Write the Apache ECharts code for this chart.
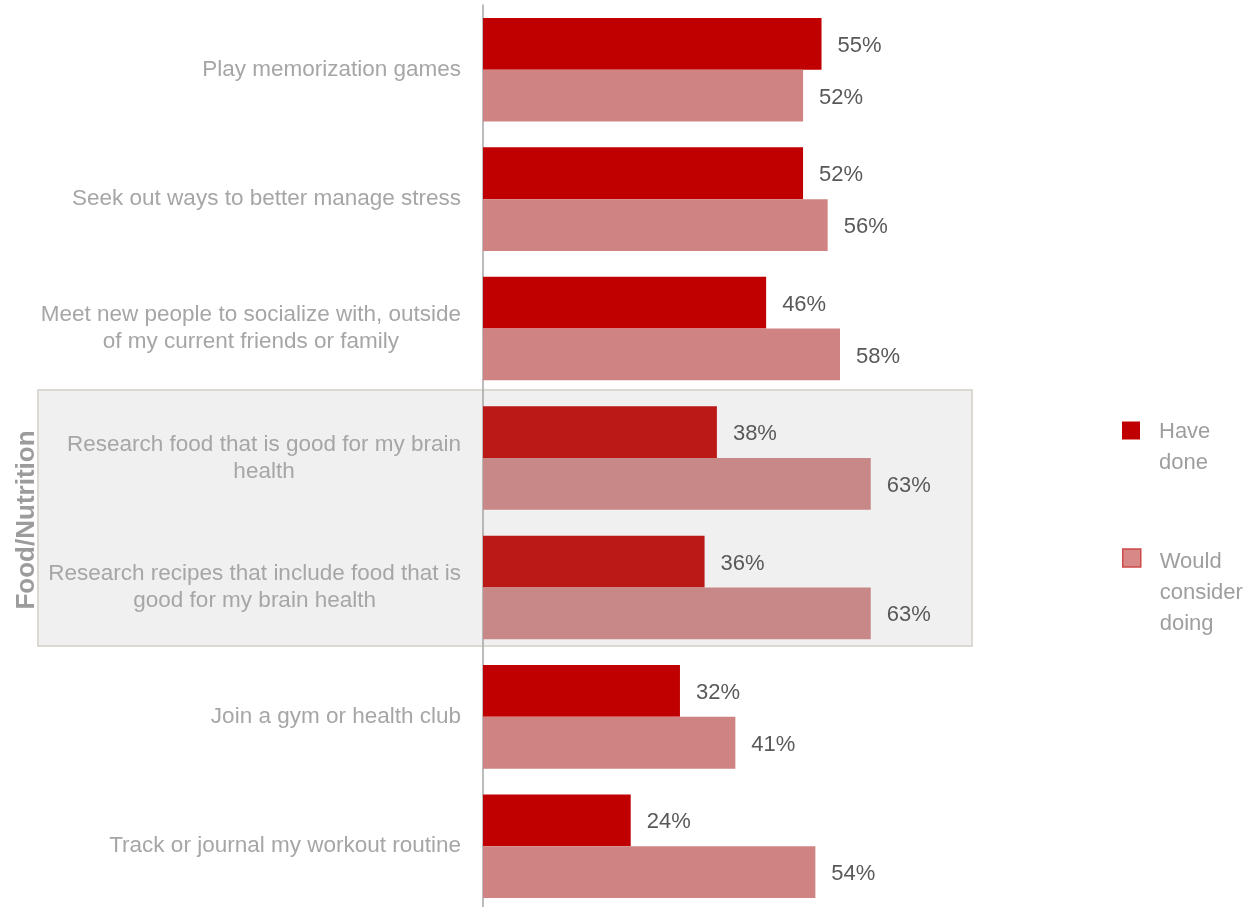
<!DOCTYPE html>
<html>
<head>
<meta charset="utf-8">
<style>
  html, body { margin: 0; padding: 0; background: #ffffff; overflow: hidden; }
  #chart { width: 1256px; height: 911px; }
</style>
<script src="https://cdn.jsdelivr.net/npm/echarts@6/dist/echarts.min.js"></script>
</head>
<body>
<div id="chart"></div>
<script>
// ---- data ----
const categories = [
  "Play memorization games",
  "Seek out ways to better manage stress",
  "Meet new people to socialize with, outside\nof my current friends or family",
  "Research food that is good for my brain\nhealth",
  "Research recipes that include food that is\ngood for my brain health",
  "Join a gym or health club",
  "Track or journal my workout routine"
];
const haveDone = [55, 52, 46, 38, 36, 32, 24];
const wouldConsider = [52, 56, 58, 63, 63, 41, 54];
const seriesNames = ["Have done", "Would consider doing"];
const legendLabels = ["Have\ndone", "Would\nconsider\ndoing"];
const groupLabel = "Food/Nutrition";
const groupIndices = [3, 4];

// ---- styling ----
const FONT = "'Liberation Sans', Arial, sans-serif";
const C_HAVE = "#c00000", C_HAVE_HL = "#bb1818";
const C_WOULD = "#d08383", C_WOULD_HL = "#c98888";

function colored(values, base, hl) {
  return values.map((v, i) => ({
    value: v,
    itemStyle: { color: groupIndices.includes(i) ? hl : base }
  }));
}
// blank lines ahead of the text so its first line sits level with the legend icon
function legendText(s) {
  const lines = s.split('\n');
  const pre = [];
  for (let i = 1; i < lines.length; i++) pre.push('{b| }');
  return pre.concat(lines.map(l => '{t|' + l + '}')).join('\n');
}
function legendRich(blankH) {
  return {
    b: { fontSize: 22, lineHeight: blankH, fontFamily: FONT },
    t: { fontSize: 22, lineHeight: 31, fontFamily: FONT, color: '#9e9e9e' }
  };
}

const chart = echarts.init(document.getElementById('chart'), null, { renderer: 'canvas' });

const labelStyle = {
  show: true,
  position: 'right',
  distance: 16,
  offset: [0, 2],
  formatter: p => p.value + '%',
  color: '#595959',
  fontFamily: FONT,
  fontSize: 22
};

chart.setOption({
  backgroundColor: '#ffffff',
  animation: false,
  grid: { left: 483, top: 5, right: 157.5, bottom: 0, containLabel: false },
  xAxis: { type: 'value', min: 0, max: 100, show: false },
  yAxis: {
    type: 'category',
    inverse: true,
    data: categories,
    axisLine: { show: true, lineStyle: { color: '#a6a6a6', width: 1.5 } },
    axisTick: { show: false },
    splitLine: { show: false },
    axisLabel: {
      margin: 22,
      color: '#a6a6a6',
      fontFamily: FONT,
      fontSize: 22.5,
      lineHeight: 27,
      formatter: v => v.split('\n').map(l => '{c|' + l + '}').join('\n'),
      rich: { c: { align: 'center', color: '#a6a6a6', fontFamily: FONT, fontSize: 22.5, lineHeight: 27 } }
    }
  },
  legend: [
    {
      left: 1122, top: 388.5, padding: 0, orient: 'vertical',
      itemWidth: 18, itemHeight: 18, selectedMode: false,
      data: [{ name: seriesNames[0], icon: 'rect', itemStyle: { color: C_HAVE } }],
      formatter: () => legendText(legendLabels[0]),
      textStyle: { color: '#9e9e9e', fontFamily: FONT, fontSize: 22, padding: [0, 0, 0, 14], rich: legendRich(33) }
    },
    {
      left: 1122, top: 483, padding: 0, orient: 'vertical',
      itemWidth: 18, itemHeight: 18, selectedMode: false,
      data: [{ name: seriesNames[1], icon: 'rect', itemStyle: { color: '#d98888', borderColor: '#cc4a4a', borderWidth: 1.5 } }],
      formatter: () => legendText(legendLabels[1]),
      textStyle: { color: '#9e9e9e', fontFamily: FONT, fontSize: 22, padding: [0, 0, 0, 14], rich: legendRich(35) }
    }
  ],
  graphic: [
    {
      type: 'rect', z: -10, silent: true,
      shape: { x: 38, y: 390, width: 934, height: 256 },
      style: { fill: '#f0f0f0', stroke: '#dcd9d5', lineWidth: 2 }
    },
    {
      type: 'text', z: 10, silent: true,
      x: 27, y: 520, rotation: Math.PI / 2,
      style: {
        text: groupLabel, fill: '#9c9c9c',
        font: 'bold 26px ' + FONT, align: 'center', verticalAlign: 'middle'
      }
    }
  ],
  series: [
    {
      name: seriesNames[0], type: 'bar', barGap: '0%', barCategoryGap: '20%',
      itemStyle: { color: C_HAVE },
      data: colored(haveDone, C_HAVE, C_HAVE_HL),
      label: labelStyle
    },
    {
      name: seriesNames[1], type: 'bar', barGap: '0%', barCategoryGap: '20%',
      itemStyle: { color: C_WOULD },
      data: colored(wouldConsider, C_WOULD, C_WOULD_HL),
      label: labelStyle
    }
  ]
});
</script>
</body>
</html>
